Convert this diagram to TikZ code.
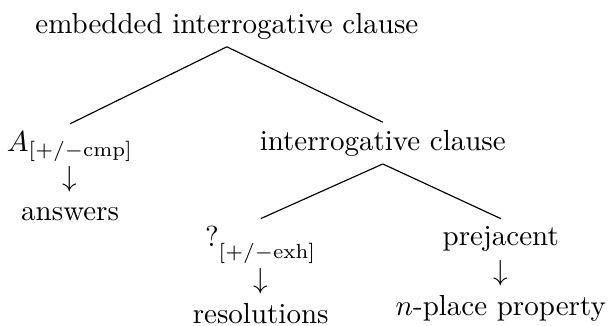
\documentclass[tikz,border=0pt]{standalone}
\usepackage{amsmath}
\tikzset{treenode/.style={inner sep=2.5pt,align=center}}
\begin{document}
\begin{tikzpicture}
  \useasboundingbox (0,0) rectangle (7.37,-3.95);
  % draw root
  \node at(2.75,-0.40)[treenode,anchor=base](emb){embedded interrogative clause};
  % draw answers column
  \node at(0.85,-1.50)[treenode,anchor=north](ans){$A_{[+/-\mathrm{cmp}]}$\\$\downarrow$\\answers};
  % draw interrogative clause
  \node at(4.64,-1.82)[treenode,anchor=base](intq){interrogative clause};
  % draw resolutions column
  \node at(3.16,-2.65)[treenode,anchor=north](res){\raisebox{2.3pt}{?}$_{[+/-\mathrm{exh}]}$\\$\downarrow$\\resolutions};
  % draw prejacent column
  \node at(6.07,-2.65)[treenode,anchor=north](prej){prejacent\\$\downarrow$\\$n$-place property};
  % draw branches
  \draw (emb.south) -- (ans.north);
  \draw (emb.south) -- (intq.north);
  \draw (intq.south) -- (res.north);
  \draw (intq.south) -- (prej.north);
\end{tikzpicture}
\end{document}
